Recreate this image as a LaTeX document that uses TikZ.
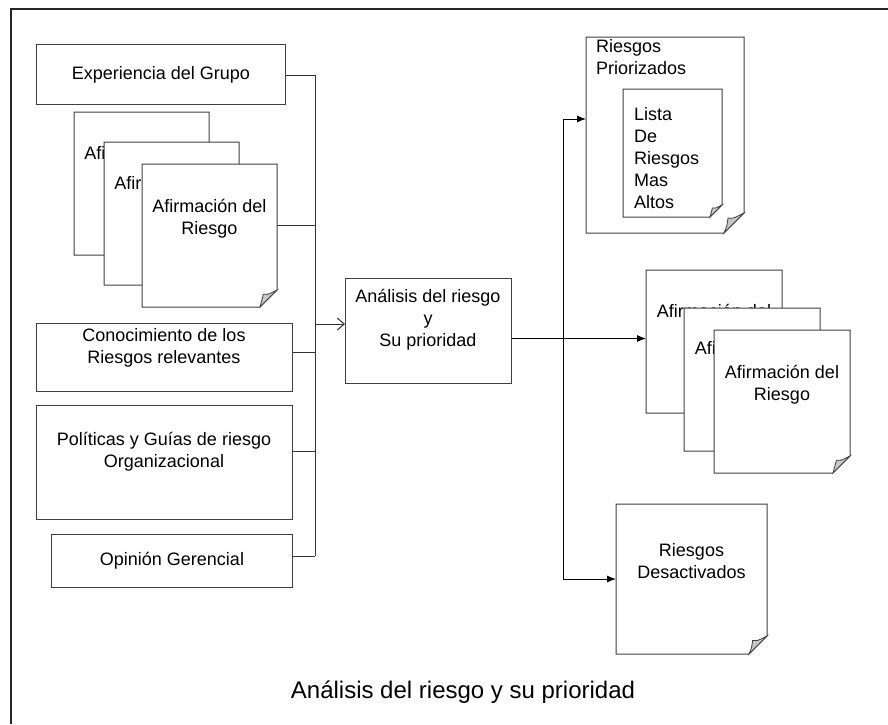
\documentclass[tikz,border=0pt]{standalone}
\usepackage{fontspec}
\setmainfont{Liberation Sans}
\usepackage{tikz}
\usetikzlibrary{positioning}
\usetikzlibrary{arrows.meta, calc}

\tikzset{
    frame/.style={line width=2pt, draw=black!85},
    box/.style={draw=black!75, line width=1pt, fill=white, anchor=north west, inner sep=0pt, align=center, font=\fontsize{18}{22}\selectfont},
    doc/.style={fill=white, anchor=north west, inner sep=0pt, outer sep=0pt},
    docedge/.style={draw=black!75, line width=1pt},
    foldfill/.style={fill=black!22, draw=black!75, line width=0.8pt},
    doctext/.style={align=center, inner sep=0pt, font=\fontsize{18}{22}\selectfont},
    listtext/.style={align=left, anchor=west, inner sep=0pt, font=\fontsize{18}{22}\selectfont},
    conn/.style={draw=black!80, line width=1pt},
    inarrow/.style={conn, -{Straight Barb[length=7pt,width=12pt]}},
    outarrow/.style={draw=black, line width=1pt, -{Latex[length=9pt,width=7pt]}},
    caption/.style={font=\fontsize{24}{28}\selectfont}
}

\newcommand{\docline}[2]{%
    \draw[docedge] (#1.south west) -- (#1.north west) -- (#1.north east)
        -- ($(#1.south east)+(0,-#2)$) -- ($(#1.south east)+(-#2,0)$) -- cycle;
    \filldraw[foldfill] ($(#1.south east)+(-#2,0)$)
        .. controls ($(#1.south east)+(-0.85*#2,-0.35*#2)$) .. ($(#1.south east)+(-0.8*#2,-0.75*#2)$)
        .. controls ($(#1.south east)+(-0.55*#2,-0.72*#2)$) .. ($(#1.south east)+(0,-#2)$) -- cycle;
}

\begin{document}
\begin{tikzpicture}[x=1pt, y=-1pt]
    \useasboundingbox (0,0) rectangle (888,724);
    \draw[frame] (11,724) -- (11,9) -- (888,9);

    \begin{scope}
        \node[box, minimum width=249pt, minimum height=60pt] (exp) at (36,44) {Experiencia del Grupo};

        \node[doc, minimum width=135pt, minimum height=143pt] (dl1) at (74,112) {};
        \node[doctext] (dl1-t) at (141.5,166) {Afirmación del\\Riesgo};
        \docline{dl1}{17}
        \node[doc, minimum width=135pt, minimum height=143pt] (dl2) at (104,142) {};
        \node[doctext] (dl2-t) at (171.5,196) {Afirmación del\\Riesgo};
        \docline{dl2}{17}
        \node[doc, minimum width=135pt, minimum height=143pt] (dl3) at (142,164) {};
        \node[doctext] (dl3-t) at (209.5,219) {Afirmación del\\Riesgo};
        \docline{dl3}{17}

        \node[box, minimum width=256pt, minimum height=68pt] (con) at (36,323) {};
        \node[doctext] (con-t) at (164,348) {Conocimiento de los\\Riesgos relevantes};
        \node[box, minimum width=256pt, minimum height=114pt] (pol) at (36,405) {};
        \node[doctext] (pol-t) at (164,452) {Políticas y Guías de riesgo\\Organizacional};
        \node[box, minimum width=241pt, minimum height=53pt] (opi) at (51,534) {Opinión Gerencial};
    \end{scope}

    \coordinate (bustop) at (315,75);
    \coordinate (busbot) at (315,556);
    \draw[conn] (exp.east |- bustop) -- (bustop) -- (busbot);
    \draw[conn] ([yshift=10pt]dl3.east) -- ([yshift=10pt]dl3.east -| bustop);
    \draw[conn] ([yshift=5pt]con.east) -- ([yshift=5pt]con.east -| bustop);
    \draw[conn] ([yshift=11pt]pol.east) -- ([yshift=11pt]pol.east -| bustop);
    \draw[conn] (opi.east |- busbot) -- (busbot);

    \node[box, minimum width=166pt, minimum height=105pt] (ana) at (345,278) {};
    \node[doctext] (ana-t) at (428,320) {Análisis del riesgo\\y\\Su prioridad};
    \draw[inarrow] ([yshift=7pt]ana.west -| bustop) -- ([yshift=7pt]ana.west);

    \begin{scope}
        \node[doc, minimum width=158pt, minimum height=196pt] (pri) at (586,37) {};
        \docline{pri}{20}
        \node[listtext] (pri-t) at (596,57) {Riesgos\\Priorizados};
        \node[doc, minimum width=99pt, minimum height=128pt] (lis) at (623,89) {};
        \docline{lis}{12}
        \node[listtext] (lis-t) at (634,158) {Lista\\De\\Riesgos\\Mas\\Altos};

        \node[doc, minimum width=136pt, minimum height=143pt] (dr1) at (646,270) {};
        \node[doctext] (dr1-t) at (714,324) {Afirmación del\\Riesgo};
        \docline{dr1}{17}
        \node[doc, minimum width=136pt, minimum height=143pt] (dr2) at (684,308) {};
        \node[doctext] (dr2-t) at (752,361) {Afirmación del\\Riesgo};
        \docline{dr2}{17}
        \node[doc, minimum width=136pt, minimum height=143pt] (dr3) at (714,330) {};
        \node[doctext] (dr3-t) at (782,385) {Afirmación del\\Riesgo};
        \docline{dr3}{17}

        \node[doc, minimum width=151pt, minimum height=150pt] (des) at (616,504) {};
        \docline{des}{18}
        \node[doctext] (des-t) at (691.5,561) {Riesgos\\Desactivados};
    \end{scope}

    \coordinate (obus) at (563,338);
    \draw[outarrow] ([yshift=-7.5pt]ana.east) -- ([yshift=-7.5pt]ana.east -| dr1.west);
    \draw[outarrow] (obus) |- ([yshift=16pt]pri.west);
    \draw[outarrow] (obus) |- (des.west);

    \node[caption] (cap) at (463,692) {Análisis del riesgo y su prioridad};
\end{tikzpicture}
\end{document}
